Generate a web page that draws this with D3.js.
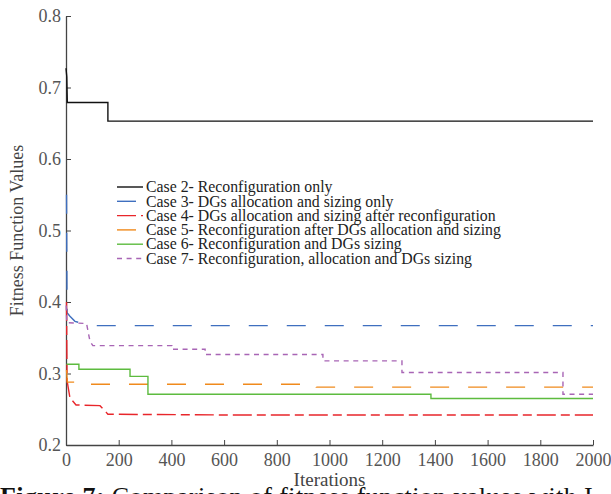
<!DOCTYPE html>
<html>
<head>
<meta charset="utf-8">
<script src="https://cdn.jsdelivr.net/npm/d3@7/dist/d3.min.js"></script>
<style>
  body { margin: 0; background: #fff; }
  svg { display: block; font-family: "Liberation Serif", "Times New Roman", serif; }
</style>
</head>
<body>
<svg id="chart" width="611" height="494"></svg>
<script>
// series (iteration, fitness) - step corners listed explicitly
const case2Iter = [0, 3, 5, 159, 159, 2000];
const case2Val  = [0.727, 0.715, 0.679, 0.679, 0.653, 0.653];

const case3Iter = [2, 4, 15, 34, 72, 100, 2000];
const case3Val  = [0.55, 0.385, 0.38, 0.373, 0.369, 0.367, 0.367];

const case4Iter = [2, 4, 15, 38, 129, 152, 159, 600, 2000];
const case4Val  = [0.40, 0.29, 0.266, 0.256, 0.255, 0.246, 0.243, 0.242, 0.242];

const case5Iter = [2, 5, 90, 90, 950, 950, 2000];
const case5Val  = [0.305, 0.288, 0.288, 0.285, 0.285, 0.281, 0.281];

const case6Iter = [2, 49, 49, 243, 243, 311, 311, 1385, 1385, 2000];
const case6Val  = [0.313, 0.313, 0.306, 0.306, 0.296, 0.296, 0.271, 0.271, 0.265, 0.265];

const case7Iter = [1, 3, 78, 91, 102, 402, 402, 528, 528, 975, 975, 1275, 1275, 1886, 1886, 2000];
const case7Val  = [0.395, 0.371, 0.370, 0.345, 0.339, 0.339, 0.334, 0.334, 0.3265, 0.3265, 0.3176, 0.3176, 0.3014, 0.3014, 0.271, 0.271];

const caseLabels = [
  "Case 2- Reconfiguration only",
  "Case 3- DGs allocation and sizing only",
  "Case 4- DGs allocation and sizing after reconfiguration",
  "Case 5- Reconfiguration after DGs allocation and sizing",
  "Case 6- Reconfiguration and DGs sizing",
  "Case 7- Reconfiguration, allocation and DGs sizing"
];

const xTicks = [0, 200, 400, 600, 800, 1000, 1200, 1400, 1600, 1800, 2000];
const yTicks = [0.2, 0.3, 0.4, 0.5, 0.6, 0.7, 0.8];

const seriesColors = ["#111111", "#3f6fbf", "#e8262b", "#f08a1c", "#5dbb3f", "#a865b5"];
const seriesDash = [null, "19,19", "19,5,9,5", "19,19", null, "5,4.6"];

const series = [
  { iter: case2Iter, val: case2Val },
  { iter: case3Iter, val: case3Val },
  { iter: case4Iter, val: case4Val },
  { iter: case5Iter, val: case5Val },
  { iter: case6Iter, val: case6Val },
  { iter: case7Iter, val: case7Val }
].map((s, i) => ({
  label: caseLabels[i],
  color: seriesColors[i],
  dash: seriesDash[i],
  points: s.iter.map((it, j) => ({ x: it, y: s.val[j] }))
}));

const svg = d3.select("#chart");
const margin = { left: 66, right: 18, top: 16, bottom: 49 };
const width = 611 - margin.left - margin.right;
const height = 494 - margin.top - margin.bottom;

const x = d3.scaleLinear().domain([0, 2000]).range([0, width]);
const y = d3.scaleLinear().domain([0.2, 0.8]).range([height, 0]);

const g = svg.append("g")
  .attr("transform", `translate(${margin.left},${margin.top})`);

// axes: ticks point inward
const xAxis = g.append("g")
  .attr("transform", `translate(0,${height})`)
  .call(d3.axisBottom(x).tickValues(xTicks).tickFormat(d3.format("d")).tickSize(-5).tickPadding(8).tickSizeOuter(0));

const yAxis = g.append("g")
  .call(d3.axisLeft(y).tickValues(yTicks).tickFormat(d3.format(".1f")).tickSize(-5).tickPadding(5).tickSizeOuter(0));

[xAxis, yAxis].forEach(ax => {
  ax.select(".domain").attr("stroke", "#444").attr("stroke-width", 1.3);
  ax.selectAll(".tick line").attr("stroke", "#444").attr("stroke-width", 1);
  ax.selectAll(".tick text")
    .attr("fill", "#555")
    .style("font-family", "Liberation Serif, serif")
    .style("font-size", "18px");
});

// lines
const line = d3.line()
  .x(d => x(d.x))
  .y(d => y(d.y));

g.selectAll(".case-line")
  .data(series)
  .enter()
  .append("path")
  .attr("class", "case-line")
  .attr("fill", "none")
  .attr("stroke", d => d.color)
  .attr("stroke-width", 1.4)
  .attr("stroke-dasharray", d => d.dash)
  .attr("d", d => line(d.points));

// legend
const legend = svg.append("g")
  .attr("transform", "translate(117,187)");

const legendItems = legend.selectAll(".legend-item")
  .data(series)
  .enter()
  .append("g")
  .attr("class", "legend-item")
  .attr("transform", (d, i) => `translate(0, ${i * 14.3})`);

legendItems.append("line")
  .attr("x1", 0)
  .attr("x2", 26)
  .attr("stroke", d => d.color)
  .attr("stroke-width", 1.4)
  .attr("stroke-dasharray", d => d.dash);

legendItems.append("text")
  .attr("x", 29)
  .attr("dy", "0.33em")
  .style("font-size", "15.8px")
  .attr("fill", "#222")
  .text(d => d.label);

// axis titles
svg.append("text")
  .attr("x", margin.left + width / 2)
  .attr("y", 486)
  .attr("text-anchor", "middle")
  .attr("fill", "#444")
  .style("font-size", "19px")
  .text("Iterations");

svg.append("text")
  .attr("transform", `translate(23, ${margin.top + height / 2}) rotate(-90)`)
  .attr("text-anchor", "middle")
  .attr("fill", "#444")
  .style("font-size", "18px")
  .text("Fitness Function Values");

// figure caption, cut at the bottom edge like the source
const caption = svg.append("text")
  .attr("x", 0)
  .attr("y", 505)
  .style("font-size", "26px")
  .style("letter-spacing", "0.4px")
  .attr("fill", "#111");
caption.append("tspan").style("font-weight", "bold").text("Figure 7: ");
caption.append("tspan").text("Comparison of fitness function values with I");
</script>
</body>
</html>
